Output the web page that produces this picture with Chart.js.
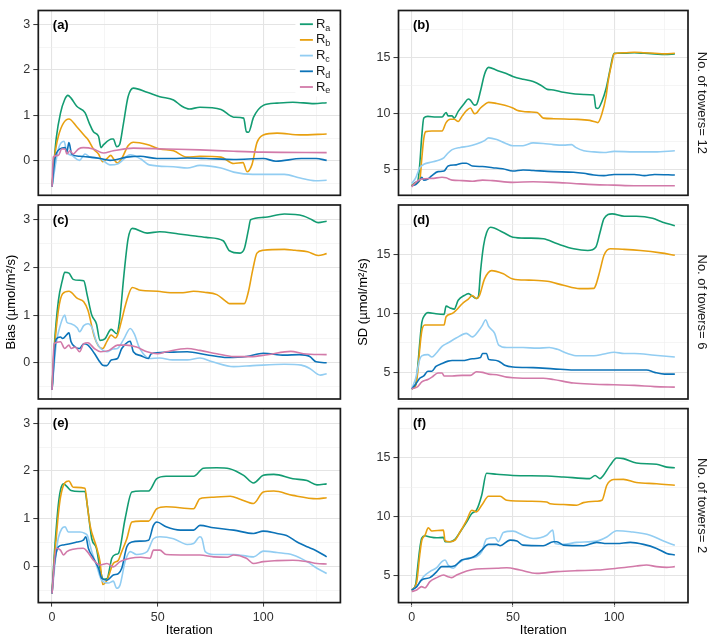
<!DOCTYPE html>
<html>
<head>
<meta charset="utf-8">
<script src="https://cdn.jsdelivr.net/npm/chart.js@4.4.0/dist/chart.umd.min.js"></script>
<style>
  body { margin: 0; background: #fff; }
  #wrap { position: relative; width: 709px; height: 639px; }
  #wrap canvas { position: absolute; left: 0; top: 0; }
</style>
</head>
<body>
<div id="wrap"></div>
<script>
// ---- data: [iteration, value] ----
// Bias, 12 towers (a)
const a_Ra = [[0,-0.57],[1,0.0],[2,0.5],[4,1.05],[6,1.35],[7.5,1.44],[9,1.38],[11.7,1.2],[15.6,1.06],[17.7,0.82],[19.6,0.64],[22,0.54],[23.2,0.29],[24.5,0.36],[28.3,0.48],[29,0.48],[30.6,0.31],[32,0.36],[33.8,0.82],[36,1.41],[38.5,1.6],[45,1.51],[51,1.41],[57.5,1.34],[61.5,1.2],[65,1.14],[70,1.18],[80,1.13],[86,0.96],[90.7,0.94],[92,0.64],[93,0.63],[95.4,0.96],[100,1.22],[106.5,1.27],[114,1.29],[124,1.26],[130,1.28]];
const a_Rb = [[0,-0.57],[1,0.0],[3,0.54],[8,0.92],[11.7,0.75],[15.6,0.54],[17,0.47],[19.6,0.26],[22,0.15],[24,-0.02],[26,0.05],[27.8,0.12],[29,0.05],[31,-0.05],[33,0.05],[36,0.33],[38.5,0.41],[45,0.36],[51,0.26],[57.5,0.22],[64,0.08],[70,0.1],[80,0.08],[86,-0.06],[90.4,-0.04],[92.3,-0.24],[94.6,-0.09],[97,0.4],[100,0.57],[106.5,0.61],[117.5,0.57],[130,0.59]];
const a_Rc = [[0,-0.57],[3,0.26],[5.7,0.43],[7,0.19],[9.3,0.12],[13,0.01],[15.6,0.15],[18,0.08],[22.7,0.05],[27.5,-0.09],[31,-0.07],[37,0.13],[41.7,0.05],[46,-0.09],[57.5,-0.13],[64,-0.16],[70,-0.1],[80,-0.16],[86,-0.25],[95,-0.3],[110,-0.3],[117.5,-0.38],[124.6,-0.44],[130,-0.43]];
const a_Rd = [[0,-0.57],[1.4,0.05],[3.8,0.26],[6.2,0.29],[7,0.19],[8,0.4],[9.3,0.15],[13,0.1],[18,0.08],[22.7,0.05],[27.5,0.01],[35.4,0.08],[41.7,0.1],[49.6,0.05],[57.5,0.05],[64,0.06],[73,0.05],[86,0.03],[100,0.05],[106,-0.01],[118,0.05],[125,0.05],[130,0.01]];
const a_Re = [[0,-0.57],[0.6,0.08],[3,0.12],[4.6,0.26],[6.2,0.26],[7,0.15],[8.5,0.22],[10,0.15],[12.5,0.26],[14.8,0.29],[19.6,0.26],[24.3,0.17],[29,0.22],[38.5,0.28],[54,0.26],[70,0.24],[86,0.21],[100,0.19],[130,0.18]];

// SD, 12 towers (b)
const b_Ra = [[0,3.6],[2,3.9],[3,4.0],[4,5.5],[5,8.0],[6,9.6],[8,9.75],[12,9.7],[15,9.7],[17,10.1],[18,9.8],[20,9.8],[21,9.6],[23,10.2],[26,10.9],[28,11.3],[29,11.2],[31,10.75],[32,10.8],[34,12.0],[36,13.5],[38,14.1],[42,13.85],[46,13.6],[50,13.3],[55,13.05],[60,12.85],[64,12.5],[67,12.15],[70,12.1],[75,11.9],[85,11.7],[90,11.65],[91,10.5],[92,10.45],[94,11.1],[96,12.2],[98,13.9],[100,15.35],[105,15.35],[110,15.4],[115,15.35],[120,15.3],[125,15.25],[130,15.3]];
const b_Rb = [[0,3.6],[2,3.8],[4,4.1],[5,6.0],[6,7.8],[7,8.4],[10,8.45],[15,8.45],[17,9.2],[19,9.5],[21,9.5],[23,9.3],[25,9.8],[27,10.25],[29,10.5],[31,10.0],[32,10.05],[34,10.5],[36,10.8],[38,11.0],[42,10.9],[46,10.75],[50,10.5],[52,10.3],[58,10.15],[62,10.1],[65,9.6],[70,9.55],[80,9.5],[88,9.4],[91,9.25],[92,9.2],[94,10.0],[96,11.5],[97,12.8],[99,14.6],[100,15.3],[105,15.4],[110,15.45],[115,15.4],[120,15.35],[125,15.3],[130,15.35]];
const b_Rc = [[0,3.8],[2,4.3],[4,5.2],[6,5.5],[10,5.7],[14,5.9],[16,6.1],[18,6.5],[20,6.8],[24,7.0],[28,7.1],[32,7.3],[36,7.6],[38,7.85],[42,7.7],[46,7.4],[50,7.15],[55,7.15],[60,7.4],[65,7.35],[70,7.25],[75,7.2],[79,7.25],[81,7.0],[85,6.7],[90,6.6],[95,6.55],[100,6.65],[110,6.6],[120,6.6],[130,6.7]];
const b_Rd = [[0,3.6],[2,3.7],[4,4.1],[5,4.35],[6,4.1],[8,4.2],[10,4.5],[13,4.85],[16,4.9],[18,5.35],[22,5.45],[25,5.6],[27,5.6],[30,5.35],[35,5.3],[40,5.2],[45,5.1],[50,4.9],[55,5.0],[60,4.95],[70,4.85],[80,4.8],[85,4.7],[90,4.55],[95,4.5],[100,4.6],[110,4.6],[115,4.5],[120,4.6],[130,4.55]];
const b_Re = [[0,3.5],[2,3.9],[5,4.2],[10,4.25],[15,4.35],[17,4.3],[20,4.1],[25,4.05],[30,4.0],[35,4.1],[40,4.05],[50,3.9],[60,3.95],[70,3.9],[80,3.8],[90,3.7],[100,3.65],[110,3.6],[120,3.6],[130,3.6]];

// Bias, 6 towers (c)
const c_Ra = [[0,-0.57],[1,0.3],[3,1.3],[5,1.75],[6,1.9],[8,1.88],[10,1.75],[13,1.73],[15,1.72],[16.7,1.41],[18.8,1.0],[21,0.82],[22.7,0.47],[25,0.5],[28,0.7],[30.6,0.61],[32,0.9],[34,1.83],[36,2.6],[38,2.82],[45,2.72],[51,2.75],[60,2.7],[64,2.68],[73,2.63],[81,2.56],[84,2.35],[89,2.3],[91,2.39],[93,2.8],[94,3.0],[100,3.05],[110,3.12],[119,3.08],[123,3.0],[126,2.94],[130,2.97]];
const c_Rb = [[0,-0.57],[1,0.2],[3,1.1],[5,1.45],[8,1.5],[12,1.35],[15,1.28],[17,1.1],[20,0.55],[22,0.35],[24,0.3],[26,0.45],[28,0.58],[30,0.52],[31,0.58],[33,0.9],[35,1.25],[38,1.58],[42,1.52],[50,1.5],[56,1.47],[62,1.47],[67,1.5],[72,1.48],[78,1.43],[82,1.3],[84,1.24],[91,1.24],[93,1.5],[95,1.95],[97,2.3],[100,2.36],[110,2.38],[115,2.36],[121,2.33],[126,2.25],[130,2.29]];
const c_Rc = [[0,-0.57],[2,0.4],[4,0.8],[6,1.0],[7,0.85],[9,0.82],[12,0.73],[13,0.65],[15,0.78],[17,0.82],[19,0.73],[21,0.44],[23,0.3],[26,0.23],[29,0.29],[31,0.3],[34,0.5],[37,0.72],[39,0.6],[41,0.35],[43,0.2],[46,0.09],[51,0.1],[57,0.06],[64,0.06],[70,0.1],[76,0.02],[86,-0.08],[95,-0.06],[110,-0.03],[118,-0.05],[122,-0.12],[127,-0.26],[130,-0.23]];
const c_Rd = [[0,-0.57],[2,0.5],[4,0.54],[5,0.51],[7,0.59],[8,0.63],[9,0.44],[11,0.33],[13,0.3],[15,0.4],[17,0.37],[20,0.2],[22,0.06],[24,-0.05],[26,-0.06],[28,0.06],[31,0.09],[33,0.3],[36,0.44],[37,0.45],[38.5,0.23],[42,0.15],[45.5,0.09],[47,0.19],[54,0.22],[64,0.23],[73,0.17],[83,0.11],[92,0.13],[100,0.2],[110,0.16],[117,0.17],[122,0.13],[125,0.02],[130,0.0]];
const c_Re = [[0,-0.57],[1,0.4],[4,0.44],[6,0.3],[8,0.37],[9,0.3],[11,0.33],[13,0.23],[15,0.4],[17,0.42],[20,0.3],[23,0.23],[27,0.26],[31,0.37],[35,0.37],[40,0.33],[45,0.23],[50,0.19],[54,0.23],[64,0.3],[70,0.26],[78,0.19],[86,0.13],[94,0.13],[102,0.17],[113,0.24],[119,0.19],[130,0.17]];

// SD, 6 towers (d)
const d_Ra = [[0,3.6],[2,4.0],[3,5.5],[4,7.5],[5,9.2],[6.5,9.85],[8,10.05],[12,9.95],[16,9.9],[17,10.6],[19,10.45],[21,10.35],[23,11.1],[26,11.5],[28,11.66],[30,11.45],[32,11.24],[33,11.43],[34,13.5],[35.5,15.7],[37,16.8],[39,17.27],[45,16.85],[50,16.43],[57,16.35],[65,16.3],[72,15.87],[80,15.45],[87,15.3],[91,15.6],[93,16.8],[95,18.0],[99,18.4],[105,18.2],[111,18.2],[119,18.03],[124,17.7],[130,17.4]];
const d_Rb = [[0,3.6],[2,3.9],[3,5.0],[4,7.0],[5,8.5],[6.5,9.0],[16,9.0],[17,9.7],[20,9.97],[22,10.25],[25,10.8],[28,11.2],[30,11.5],[32,11.24],[33.5,11.5],[36,12.9],[39.5,13.6],[45,13.35],[50,12.9],[58,12.8],[67,12.7],[75,12.36],[83,12.08],[90,12.1],[91,12.4],[93,13.6],[95,14.9],[98,15.45],[105,15.4],[113,15.3],[123,15.1],[130,14.9]];
const d_Rc = [[0,3.6],[2,4.5],[4,6.1],[5,6.4],[8,6.5],[10,6.3],[12,6.6],[15,7.2],[18,7.5],[22,7.9],[27,8.3],[30,8.0],[33,8.5],[35,9.0],[36.5,9.45],[38,8.9],[41,8.3],[43,7.3],[47,7.1],[55,7.1],[62,7.05],[68,7.1],[72,6.95],[77,6.6],[82,6.4],[90,6.4],[95,6.55],[100,6.7],[105,6.6],[110,6.6],[120,6.45],[130,6.3]];
const d_Rd = [[0,3.6],[2,4.0],[4,4.5],[6,4.7],[8,5.1],[10,5.1],[12,5.5],[15,5.75],[18,5.95],[20,6.0],[25,6.0],[30,6.15],[34,6.25],[35,6.6],[37,6.6],[38,6.1],[40,6.05],[43,5.95],[46,5.6],[50,5.45],[60,5.4],[70,5.3],[80,5.2],[90,5.2],[100,5.2],[110,5.2],[116,5.2],[120,5.0],[125,4.85],[130,4.85]];
const d_Re = [[0,3.6],[3,3.8],[5,4.2],[8,4.4],[10,4.6],[13,4.95],[15,4.95],[16,4.7],[20,4.7],[25,4.75],[29,4.75],[32,5.05],[35,5.0],[38,4.85],[42,4.8],[47,4.6],[50,4.55],[60,4.5],[65,4.5],[70,4.4],[80,4.1],[90,4.0],[100,3.95],[110,3.9],[120,3.8],[130,3.75]];

// Bias, 2 towers (e)
const e_Ra = [[0,-0.57],[1,0.2],[2,0.8],[3,1.3],[4,1.6],[5.4,1.73],[7,1.68],[9,1.59],[13,1.57],[15.6,1.57],[16.7,1.28],[18.8,0.58],[21,0.38],[22.7,-0.04],[24.3,-0.27],[26,-0.26],[28.3,0.17],[30,0.25],[31.4,0.27],[34.6,1.0],[37.8,1.56],[42,1.58],[45.7,1.58],[49.6,1.84],[54,1.89],[67,1.89],[71.7,2.06],[78,2.07],[84,2.05],[90.7,1.91],[95.4,1.75],[100,1.91],[105,1.93],[114,1.84],[120.7,1.8],[125.4,1.71],[130,1.73]];
const e_Rb = [[0,-0.57],[1,0.1],[2,0.6],[3,1.1],[4,1.45],[6,1.75],[8,1.79],[10,1.66],[15.6,1.64],[16.7,1.28],[18,0.86],[21,0.41],[22.7,0.1],[24,-0.38],[26,-0.29],[29,0.06],[31.4,0.13],[33,0.31],[35.4,0.58],[37.8,0.93],[42,0.95],[45.7,0.95],[49.6,1.21],[54,1.25],[67,1.21],[70,1.42],[76.5,1.45],[84.4,1.47],[89,1.41],[95.4,1.32],[100,1.56],[105,1.58],[114,1.49],[125.4,1.42],[130,1.44]];
const e_Rc = [[0,-0.57],[2,0.3],[3,0.6],[4.6,0.79],[6.2,0.83],[7.7,0.72],[13.3,0.72],[15.6,0.69],[16.7,0.65],[18.8,0.31],[21,0.03],[23.5,-0.29],[26.7,-0.35],[29,-0.31],[30.6,-0.46],[32.2,-0.39],[34.6,0.1],[37,0.31],[40,0.25],[45,0.31],[48,0.58],[51,0.62],[57.5,0.58],[64,0.46],[67,0.48],[70,0.62],[71,0.58],[72.5,0.31],[76.5,0.25],[86,0.25],[95.4,0.2],[100,0.32],[106.5,0.29],[114,0.24],[120.7,0.1],[125.4,-0.04],[130,-0.15]];
const e_Rd = [[0,-0.57],[1,0.0],[3,0.41],[5.4,0.45],[11.7,0.51],[14.8,0.55],[16,0.62],[17.2,0.38],[19.6,0.17],[22,-0.04],[23.5,-0.25],[26,-0.29],[29,-0.18],[31.4,-0.15],[33,-0.04],[35.4,0.41],[37.8,0.51],[41.7,0.53],[45.7,0.55],[48,0.86],[49.6,0.93],[54,0.83],[60.7,0.76],[67,0.76],[70,0.86],[76.5,0.81],[86,0.76],[95.4,0.69],[100,0.74],[106.5,0.69],[111,0.65],[116,0.51],[120.7,0.41],[124.6,0.34],[130,0.2]];
const e_Re = [[0,-0.57],[2,0.38],[4,0.34],[5.4,0.24],[7,0.31],[10,0.36],[14.8,0.38],[16.7,0.31],[19.6,0.13],[22.7,0.03],[26,0.06],[29,-0.01],[32.2,0.1],[37,0.17],[42,0.19],[46.4,0.17],[48,0.34],[51,0.34],[54,0.25],[64,0.24],[70,0.24],[76.5,0.2],[83,0.19],[86,0.24],[92,0.17],[95.4,0.06],[100,0.1],[106.5,0.12],[114,0.13],[120.7,0.1],[125.4,0.06],[130,0.05]];

// SD, 2 towers (f)
const f_Ra = [[0,3.8],[2,4.3],[3,5.8],[4,7.3],[5,8.2],[6.6,8.4],[9,8.3],[12.4,8.23],[15.7,8.26],[16.5,7.9],[19,7.9],[21.4,8.1],[24,8.74],[27.2,9.58],[29.7,10.28],[32,10.56],[34.6,11.83],[37,13.68],[42,13.6],[50,13.5],[66.7,13.45],[75,13.37],[88,13.23],[90.6,13.5],[93,13.23],[94.7,13.5],[98,14.35],[101.3,14.97],[104.6,14.92],[111,14.55],[121,14.44],[126,14.2],[130,14.15]];
const f_Rb = [[0,3.8],[2.5,4.5],[4,6.8],[5,8.0],[6.6,8.45],[8.2,9.07],[10,8.8],[15.7,8.88],[16.5,7.98],[19,7.9],[21.4,8.03],[24,8.74],[27.2,9.72],[29.7,10.56],[32,10.42],[34.6,10.98],[38,11.74],[43.7,11.74],[47,11.4],[58.5,11.32],[66.7,11.26],[68.4,11.1],[75,11.04],[81.5,10.98],[84.8,11.2],[91.4,11.32],[94,11.4],[96.4,12.67],[99.7,13.15],[104.6,13.17],[111,12.9],[121,12.8],[130,12.67]];
const f_Rc = [[0,3.8],[2.5,4.1],[5.8,4.94],[9,5.37],[12.4,5.7],[14.8,6.2],[16.5,6.35],[18,5.93],[20.6,5.65],[23,6.07],[27.2,6.49],[32,6.63],[34.6,7.05],[37,8.12],[41.2,8.23],[42.8,7.9],[45.3,8.68],[50,8.79],[55,8.45],[60,8.17],[66.7,8.45],[69.7,8.88],[70.8,7.75],[75,7.67],[81.5,7.84],[91.4,7.95],[96.4,8.3],[101.3,8.82],[108,8.74],[117.8,8.45],[124.4,7.95],[130,7.6]];
const f_Rd = [[0,3.8],[2.5,4.1],[4.9,4.66],[9,4.86],[12.4,5.37],[14.8,5.79],[18,5.79],[21.4,5.87],[24.7,6.35],[28.8,6.49],[32,6.77],[34.6,7.19],[37.9,7.67],[42,7.67],[43.7,7.56],[48.6,8.03],[52,7.95],[55,7.61],[65,7.56],[70,7.9],[71.7,7.9],[75,7.61],[85,7.56],[91.4,7.84],[96.4,7.75],[101.3,7.75],[108,7.84],[114.5,7.67],[121,7.33],[126,6.91],[130,6.77]];
const f_Re = [[0,3.68],[2.5,3.82],[4.9,4.1],[6.6,4.0],[9,4.52],[12.4,4.86],[15.7,5.08],[18,4.94],[19.8,4.86],[22.2,5.08],[27.2,5.42],[32,5.59],[42,5.65],[47,5.7],[53.5,5.5],[61.8,5.22],[71.7,5.37],[81.5,5.45],[91.4,5.5],[101.3,5.65],[111,5.84],[116,5.93],[121,5.79],[126,5.73],[130,5.79]];

// labels / ticks
const seriesSubs = ['a', 'b', 'c', 'd', 'e'];
const towers = [12, 6, 2];
const panelLetters = ['(a)', '(b)', '(c)', '(d)', '(e)', '(f)'];
const yTitles = ['Bias (µmol/m²/s)', 'SD (µmol/m²/s)'];
const xTitle = 'Iteration';
const xTicks = [0, 25, 50, 75, 100, 125];
const biasTicks = [-0.5, 0, 0.5, 1, 1.5, 2, 2.5, 3];
const sdTicks = [2.5, 5, 7.5, 10, 12.5, 15, 17.5];

// styling / geometry
const seriesColors = ['#139c72', '#e8a010', '#92cdf2', '#0c73b8', '#d27aa9'];
const colX = [[38.3, 340.4], [398.5, 688]];
const rowY = [[1.3, 195.3], [205, 399], [408.6, 602.6]];
const yAxisW = [38.3, 47.3];
const yRange = [[-0.76, 3.31], [2.75, 19.15]];
const FONT = "'Liberation Sans', Arial, Helvetica, sans-serif";

const panels = [
  [a_Ra, a_Rb, a_Rc, a_Rd, a_Re], [b_Ra, b_Rb, b_Rc, b_Rd, b_Re],
  [c_Ra, c_Rb, c_Rc, c_Rd, c_Re], [d_Ra, d_Rb, d_Rc, d_Rd, d_Re],
  [e_Ra, e_Rb, e_Rc, e_Rd, e_Re], [f_Ra, f_Rb, f_Rc, f_Rd, f_Re]
];

const wrap = document.getElementById('wrap');

// border, panel letter, strip text and (for panel a) the legend
const decor = {
  id: 'decor',
  afterDraw(chart, args, opts) {
    const {ctx, chartArea: ca} = chart;
    ctx.save();
    if (opts.legend) {
      ctx.fillStyle = '#fff';
      ctx.fillRect(ca.right - 45, ca.top + 2, 44, 84);
      seriesSubs.forEach((s, i) => {
        const y = ca.top + 13.7 + i * 15.7;
        ctx.strokeStyle = seriesColors[i];
        ctx.lineWidth = 1.8;
        ctx.beginPath();
        ctx.moveTo(ca.right - 40.5, y);
        ctx.lineTo(ca.right - 27.5, y);
        ctx.stroke();
        ctx.fillStyle = '#1a1a1a';
        ctx.textBaseline = 'middle';
        ctx.textAlign = 'left';
        ctx.font = '13px ' + FONT;
        ctx.fillText('R', ca.right - 24.5, y);
        const w = ctx.measureText('R').width;
        ctx.font = '9px ' + FONT;
        ctx.fillText(s, ca.right - 24.5 + w, y + 4);
      });
    }
    ctx.strokeStyle = '#1a1a1a';
    ctx.lineWidth = 1.7;
    ctx.strokeRect(ca.left, ca.top, ca.right - ca.left, ca.bottom - ca.top);

    ctx.fillStyle = '#000';
    ctx.font = 'bold 13px ' + FONT;
    ctx.textAlign = 'left';
    ctx.textBaseline = 'middle';
    ctx.fillText(opts.letter, ca.left + 14.5, ca.top + 15);

    if (opts.strip) {
      ctx.translate(702, (ca.top + ca.bottom) / 2);
      ctx.rotate(Math.PI / 2);
      ctx.textAlign = 'center';
      ctx.font = '13px ' + FONT;
      ctx.fillStyle = '#1a1a1a';
      ctx.fillText(opts.strip, 0, 0);
    }
    ctx.restore();
  }
};

panels.forEach((series, k) => {
  const row = Math.floor(k / 2), col = k % 2;
  const [x0, x1] = colX[col];
  const [y0, y1] = rowY[row];
  const yW = yAxisW[col];
  const xH = row === 2 ? 36 : 0;
  const yTicks = col === 0 ? biasTicks : sdTicks;
  const yMajor = v => col === 0 ? Number.isInteger(v) : v % 5 === 0;
  const xMajor = v => v % 50 === 0;

  const cv = document.createElement('canvas');
  cv.width = 709;
  cv.height = 639;
  wrap.appendChild(cv);

  new Chart(cv, {
    type: 'line',
    data: {
      datasets: series.map((d, i) => ({
        data: d,
        borderColor: seriesColors[i],
        borderWidth: 1.6,
        pointRadius: 0,
        fill: false,
        cubicInterpolationMode: 'monotone',
        order: 4 - i
      }))
    },
    options: {
      responsive: false,
      animation: false,
      devicePixelRatio: 1,
      events: [],
      layout: { padding: { left: x0 - yW, right: 709 - x1, top: y0, bottom: 639 - y1 - xH } },
      plugins: {
        legend: { display: false },
        tooltip: { enabled: false },
        decor: { letter: panelLetters[k], legend: k === 0, strip: col === 1 ? 'No. of towers= ' + towers[row] : null }
      },
      scales: {
        x: {
          type: 'linear',
          min: -6.5,
          max: 136.5,
          afterBuildTicks: s => { s.ticks = xTicks.map(v => ({ value: v })); },
          afterFit: s => { s.height = xH; },
          border: { display: false },
          grid: {
            color: c => xMajor(c.tick.value) ? '#e4e4e4' : '#efefef',
            lineWidth: c => xMajor(c.tick.value) ? 1.1 : 0.6,
            drawTicks: row === 2,
            tickLength: 4,
            tickWidth: 1,
            tickColor: c => xMajor(c.tick.value) ? '#333' : 'rgba(0,0,0,0)'
          },
          ticks: {
            display: row === 2,
            autoSkip: false,
            maxRotation: 0,
            padding: 3,
            color: '#333',
            font: { family: FONT, size: 12.5 },
            callback: v => xMajor(v) ? String(v) : ''
          },
          title: {
            display: row === 2,
            text: xTitle,
            color: '#000',
            font: { family: FONT, size: 13 },
            padding: { top: 0, bottom: 0 }
          }
        },
        y: {
          min: yRange[col][0],
          max: yRange[col][1],
          afterBuildTicks: s => { s.ticks = yTicks.map(v => ({ value: v })); },
          afterFit: s => { s.width = yW; },
          border: { display: false },
          grid: {
            color: c => yMajor(c.tick.value) ? '#e4e4e4' : '#efefef',
            lineWidth: c => yMajor(c.tick.value) ? 1.1 : 0.6,
            drawTicks: true,
            tickLength: 5,
            tickWidth: 1,
            tickColor: c => yMajor(c.tick.value) ? '#333' : 'rgba(0,0,0,0)'
          },
          ticks: {
            autoSkip: false,
            padding: 3,
            color: '#333',
            font: { family: FONT, size: 12.5 },
            callback: v => yMajor(v) ? String(v) : ''
          },
          title: {
            display: row === 1,
            text: yTitles[col],
            color: '#000',
            font: { family: FONT, size: 13 },
            padding: { top: 4, bottom: 0 }
          }
        }
      }
    },
    plugins: [decor]
  });
});
</script>
</body>
</html>
